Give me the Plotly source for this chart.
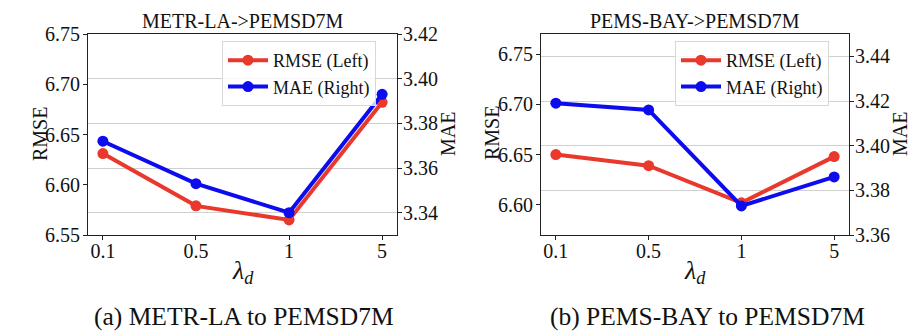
import plotly.graph_objects as go

# ---- data ----
lambda_labels = ["0.1", "0.5", "1", "5"]

rmse_metr = [6.631, 6.579, 6.565, 6.682]
mae_metr = [3.372, 3.353, 3.340, 3.393]

rmse_pems = [6.650, 6.639, 6.602, 6.648]
mae_pems = [3.419, 3.416, 3.373, 3.386]

titles = ["METR-LA->PEMSD7M", "PEMS-BAY->PEMSD7M"]
captions = ["(a) METR-LA to PEMSD7M", "(b) PEMS-BAY to PEMSD7M"]

RED = "#E8392C"
BLUE = "#0C0CEE"
FONT = "Liberation Serif"

W, H = 923, 333
fig = go.Figure()

def add_pair(xa, ya, yb, leg, rmse, mae):
    fig.add_trace(go.Scatter(x=lambda_labels, y=rmse, name="RMSE (Left)", mode="lines+markers",
                             line=dict(color=RED, width=4), marker=dict(size=11, color=RED),
                             xaxis=xa, yaxis=ya, legend=leg))
    fig.add_trace(go.Scatter(x=lambda_labels, y=mae, name="MAE (Right)", mode="lines+markers",
                             line=dict(color=BLUE, width=4), marker=dict(size=11, color=BLUE),
                             xaxis=xa, yaxis=yb, legend=leg))

add_pair("x", "y", "y2", "legend", rmse_metr, mae_metr)
add_pair("x2", "y3", "y4", "legend2", rmse_pems, mae_pems)

def px_x(p):
    return p / W

def px_y(p):
    return (H - p) / H

ydom = [px_y(227), px_y(26)]
dom1 = [px_x(80), px_x(389)]
dom2 = [px_x(533), px_x(841)]

def axis_common():
    return dict(showline=True, linecolor="#222", linewidth=1, ticks="outside",
                ticklen=4, tickcolor="#222", automargin=False,
                tickfont=dict(family=FONT, size=20, color="#111"))

def xax():
    return dict(type="category", range=[-0.16, 3.16], showgrid=False, mirror=True,
                ticklabelstandoff=-6, **axis_common())

def yl():
    return dict(showgrid=False, dtick=0.05, tickformat=".2f", ticklabelstandoff=-1, **axis_common())

def yr():
    return dict(side="right", dtick=0.02, tickformat=".2f", showgrid=True, gridcolor="#d0d0d0",
                gridwidth=1, ticklabelstandoff=-3, **axis_common())

def legend_common():
    return dict(xanchor="left", yanchor="top", bgcolor="rgba(255,255,255,0.8)",
                bordercolor="#d8d8d8", borderwidth=1,
                font=dict(family=FONT, size=18, color="#111"), itemwidth=40)

fig.update_layout(
    width=W, height=H, margin=dict(l=0, r=0, t=0, b=0, pad=0, autoexpand=False),
    font=dict(family=FONT, size=20, color="#111"),
    paper_bgcolor="white", plot_bgcolor="white", showlegend=True,
    xaxis=dict(domain=dom1, anchor="y", **xax()),
    xaxis2=dict(domain=dom2, anchor="y3", **xax()),
    yaxis=dict(domain=ydom, anchor="x", range=[6.55, 6.75], **yl()),
    yaxis2=dict(domain=ydom, anchor="x", overlaying="y", range=[3.33, 3.42], tick0=3.34, **yr()),
    yaxis3=dict(domain=ydom, anchor="x2", range=[6.57, 6.77], tick0=6.6, **yl()),
    yaxis4=dict(domain=ydom, anchor="x2", overlaying="y3", range=[3.36, 3.45], tick0=3.36, **yr()),
    legend=dict(x=px_x(214), y=px_y(33), **legend_common()),
    legend2=dict(x=px_x(667), y=px_y(33), **legend_common()),
)

annots = []
def ann(x, y, text, size, angle=0):
    annots.append(dict(x=px_x(x), y=px_y(y), xref="paper", yref="paper", text=text, showarrow=False,
                       xanchor="center", yanchor="middle", textangle=angle,
                       font=dict(family=FONT, size=size, color="#111")))

# subplot titles
ann(234.5, 13, titles[0], 20)
ann(687, 13, titles[1], 20)
# x titles
ann(234.5, 264, "<i>λ</i><sub><i>d</i></sub>", 26)
ann(687, 264, "<i>λ</i><sub><i>d</i></sub>", 26)
# y titles
ann(32, 126, "RMSE", 20, -90)
ann(440, 126, "MAE", 20, -90)
ann(484, 125, "RMSE", 20, -90)
ann(892, 126, "MAE", 20, -90)
# captions
ann(236, 308, captions[0], 25.5)
ann(699, 308, captions[1], 25.5)

fig.update_layout(annotations=annots)
fig.write_html("out.html")
